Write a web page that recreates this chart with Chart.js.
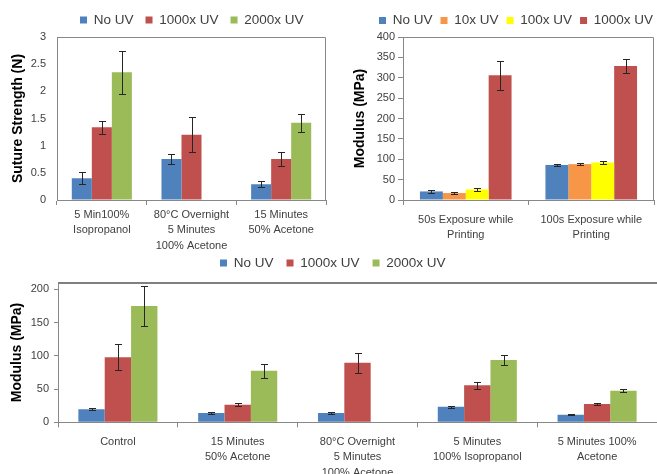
<!DOCTYPE html>
<html><head><meta charset="utf-8">
<script src="https://cdn.jsdelivr.net/npm/chart.js@4/dist/chart.umd.min.js"></script>
<style>
html,body{margin:0;padding:0;background:#fff;overflow:hidden;width:657px;height:474px;}
canvas{position:absolute;display:block;}
</style></head><body>
<canvas id="cA" width="330" height="250" style="left:0;top:0"></canvas>
<canvas id="cB" width="327" height="245" style="left:330px;top:0"></canvas>
<canvas id="cC" width="657" height="229" style="left:0;top:245px"></canvas>
<script>
// ---------- Data: chart A (suture strength) ----------
const catsA = [["5 Min100%","Isopropanol"],["80°C Overnight","5 Minutes","100% Acetone"],["15 Minutes","50% Acetone"]];
const noUVA = [0.40, 0.755, 0.29];
const noUVAErr = [0.11, 0.095, 0.055];
const uv1000A = [1.34, 1.20, 0.755];
const uv1000AErr = [0.12, 0.32, 0.13];
const uv2000A = [2.35, null, 1.42];
const uv2000AErr = [0.40, null, 0.17];

// ---------- Data: chart B (modulus, exposure while printing) ----------
const catsB = [["50s Exposure while","Printing"],["100s Exposure while","Printing"]];
const noUVB = [21, 86];
const noUVBErr = [3, 2];
const uv10B = [17, 88];
const uv10BErr = [3, 2.5];
const uv100B = [26, 92];
const uv100BErr = [3, 4];
const uv1000B = [306, 329];
const uv1000BErr = [36, 17];

// ---------- Data: chart C (modulus, post-treatment) ----------
const catsC = ["Control",["15 Minutes","50% Acetone"],["80°C Overnight","5 Minutes","100% Acetone"],["5 Minutes","100% Isopropanol"],["5 Minutes 100%","Acetone"]];
const noUVC = [19.5, 14, 14, 23.5, 11.4];
const noUVCErr = [1.5, 1, 1, 1.5, 0.5];
const uv1000C = [98, 26.5, 89.6, 55.6, 27.5];
const uv1000CErr = [20, 2, 14.7, 5, 1.5];
const uv2000C = [175, 77.6, null, 93.7, 47.5];
const uv2000CErr = [30.5, 10.5, null, 6.8, 2];

const COL = {blue:'#4F81BD', red:'#C0504D', green:'#9BBB59', orange:'#F79646', yellow:'#FFFF00'};
const FONT = "'Liberation Sans', Arial, sans-serif";
Chart.defaults.font.family = FONT;
Chart.defaults.animation = false;

const errorBars = {
  id:'errorBars',
  afterDatasetsDraw(chart){
    const ctx = chart.ctx, y = chart.scales.y;
    chart.data.datasets.forEach((ds,i)=>{
      if(!ds.errors) return;
      const meta = chart.getDatasetMeta(i);
      meta.data.forEach((bar,j)=>{
        const v = ds.data[j], e = ds.errors[j];
        if(v==null || e==null) return;
        const yt = Math.round(y.getPixelForValue(v+e))+0.5, yb = Math.round(y.getPixelForValue(v-e))+0.5;
        const x = Math.round(bar.x)+0.5;
        ctx.save(); ctx.strokeStyle='#262626'; ctx.lineWidth=1; ctx.beginPath();
        ctx.moveTo(x,yt); ctx.lineTo(x,yb);
        ctx.moveTo(x-3.5,yt); ctx.lineTo(x+3.5,yt);
        ctx.moveTo(x-3.5,yb); ctx.lineTo(x+3.5,yb);
        ctx.stroke(); ctx.restore();
      });
    });
  }
};
const frame = {
  id:'frame',
  beforeDatasetsDraw(chart, args, opts){
    const a = chart.chartArea, ctx = chart.ctx;
    ctx.save(); ctx.strokeStyle = opts.color || '#888'; ctx.lineWidth = opts.width || 1;
    ctx.beginPath();
    const off = (opts.width||1)%2 ? 0.5 : 0;
    const t = Math.round(a.top)+off, l = Math.round(a.left)+off, r = Math.round(a.right)-off;
    if(opts.box){ ctx.moveTo(l, a.bottom); ctx.lineTo(l,t); ctx.lineTo(r,t); ctx.lineTo(r,a.bottom); }
    else { ctx.moveTo(a.left,t); ctx.lineTo(a.right,t); }
    ctx.stroke(); ctx.restore();
  }
};
const legendShift = {
  id:'legendShift',
  afterLayout(chart, args, opts){
    const lg = chart.legend; if(!lg || opts.x==null) return;
    const pad = lg.options.labels.padding, fs = lg.options.labels.font.size;
    lg.left = opts.x - pad; lg.right = lg.left + 3000;
    if(opts.cy!=null) lg.top = opts.cy - pad - fs/2;
  }
};

function ds(label, data, errors, color){
  return {label, data, errors, backgroundColor:color, borderWidth:0};
}
function legendOpts(pad, x, cy){
  return {
    legend:{display:true, position:'top', align:'start',
      labels:{boxWidth:7, boxHeight:7, padding:pad, color:'#404040', font:{size:13.5, family:FONT}}},
    legendShift:{x, cy},
    tooltip:{enabled:false}
  };
}
function yScale(o){
  return {
    min:0, max:o.max,
    ticks:{stepSize:o.step, includeBounds:false, color:'#404040', font:{size:11}, padding:o.tpad, callback:v=>String(v)},
    grid:{drawOnChartArea:false, drawTicks:o.tl>0, tickLength:o.tl, color:'#888'},
    border:{color:'#888'},
    title:{display:true, text:o.title, color:'#000', font:{size:14, weight:'bold'}, padding:{top:o.titlePad, bottom:0}},
    afterFit(s){ s.width = o.width; }
  };
}
function xScale(o){
  return {
    ticks:{color:'#404040', font:{size:11, lineHeight:1.4}, padding:o.pad, maxRotation:0, minRotation:0, autoSkip:false},
    grid:{offset:true, drawOnChartArea:false, tickLength:5, color:'#888'},
    border:{color:'#888'},
    afterFit(s){ s.height = o.height; }
  };
}

new Chart(document.getElementById('cA'), {
  type:'bar',
  data:{labels:catsA, datasets:[
    ds('No UV', noUVA, noUVAErr, COL.blue),
    ds('1000x UV', uv1000A, uv1000AErr, COL.red),
    ds('2000x UV', uv2000A, uv2000AErr, COL.green)
  ]},
  options:{responsive:false, categoryPercentage:0.67, barPercentage:1,
    layout:{padding:{left:0, right:4, top:1.5, bottom:0}},
    plugins:Object.assign(legendOpts(12, 80, 20), {frame:{box:true, color:'#888'}}),
    scales:{
      x:xScale({pad:2, height:50}),
      y:yScale({max:3, step:0.5, tpad:11, tl:0, title:'Suture Strength (N)', titlePad:10, width:57})
    }},
  plugins:[errorBars, frame, legendShift]
});

new Chart(document.getElementById('cB'), {
  type:'bar',
  data:{labels:catsB, datasets:[
    ds('No UV', noUVB, noUVBErr, COL.blue),
    ds('10x UV', uv10B, uv10BErr, COL.orange),
    ds('100x UV', uv100B, uv100BErr, COL.yellow),
    ds('1000x UV', uv1000B, uv1000BErr, COL.red)
  ]},
  options:{responsive:false, categoryPercentage:0.73, barPercentage:1,
    layout:{padding:{left:0, right:3, top:5.5, bottom:0}},
    plugins:Object.assign(legendOpts(8, 49, 20.5), {frame:{box:true, color:'#888'}}),
    scales:{
      x:xScale({pad:7, height:45}),
      y:yScale({max:400, step:50, tpad:3, tl:5, title:'Modulus (MPa)', titlePad:21.6, width:73})
    }},
  plugins:[errorBars, frame, legendShift]
});

new Chart(document.getElementById('cC'), {
  type:'bar',
  data:{labels:catsC, datasets:[
    ds('No UV', noUVC, noUVCErr, COL.blue),
    ds('1000x UV', uv1000C, uv1000CErr, COL.red),
    ds('2000x UV', uv2000C, uv2000CErr, COL.green)
  ]},
  options:{responsive:false, categoryPercentage:0.66, barPercentage:1,
    layout:{padding:{left:0, right:0, top:1.2, bottom:0}},
    plugins:Object.assign(legendOpts(13, 220, 18), {frame:{box:false, color:'#808080', width:2}}),
    scales:{
      x:xScale({pad:7, height:51.7}),
      y:yScale({max:210, step:50, tpad:5, tl:4, title:'Modulus (MPa)', titlePad:8.6, width:58})
    }},
  plugins:[errorBars, frame, legendShift]
});
</script>
</body></html>
